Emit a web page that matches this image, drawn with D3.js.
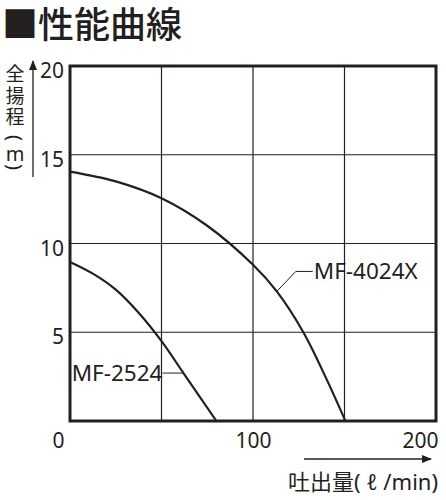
<!DOCTYPE html>
<html lang="ja">
<head>
<meta charset="utf-8">
<title>性能曲線</title>
<script src="https://cdn.jsdelivr.net/npm/d3@7"></script>
<style>
  body { margin: 0; background: #fff; }
  svg text { font-family: "Noto Sans", "Noto Sans CJK JP", sans-serif; fill: #231f20; }
  .axis path, .axis line { display: none; }
  .grid line { stroke: #231f20; stroke-width: 1.2; }
</style>
</head>
<body>
<script>
var w = 446, h = 500;
var padLeft = 70, padRight = 436, padTop = 66, padBottom = 421;

// 吐出量 (l/min) と 全揚程 (m)
var flow4024 = [0, 25, 50, 75, 100, 113, 127.5, 140, 150.5];
var head4024 = [14.05, 13.5, 12.55, 11.0, 8.8, 7.3, 5, 2.4, 0];
var flow2524 = [0, 12.5, 25, 37.5, 50, 62, 80];
var head2524 = [8.96, 8.3, 7.4, 6.1, 4.5, 2.7, 0];

var xTicks = [0, 100, 200];
var yTicks = [5, 10, 15, 20];
var xGrid = [50, 100, 150];
var yGrid = [5, 10, 15];

var xscale = d3.scaleLinear().domain([0, 200]).range([padLeft, padRight]);
var yscale = d3.scaleLinear().domain([0, 20]).range([padBottom, padTop]);

var svg = d3.select("body").append("svg").attr("width", w).attr("height", h);

var defs = svg.append("defs");
defs.append("marker").attr("id", "arrow")
    .attr("viewBox", "0 0 10 10").attr("refX", 9).attr("refY", 5)
    .attr("markerWidth", 10).attr("markerHeight", 10)
    .attr("markerUnits", "userSpaceOnUse").attr("orient", "auto")
    .append("path").attr("d", "M0,1 L10,5 L0,9 Z").attr("fill", "#231f20");

// title
svg.append("text").attr("x", 2).attr("y", 38)
   .attr("font-family", "Noto Sans CJK JP").attr("font-size", "36px").attr("font-weight", 500)
   .text("■性能曲線");

// grid
var grid = svg.append("g").attr("class", "grid");
grid.selectAll(".gx").data(xGrid).enter().append("line")
    .attr("x1", function (d) { return xscale(d); }).attr("x2", function (d) { return xscale(d); })
    .attr("y1", padTop).attr("y2", padBottom);
grid.selectAll(".gy").data(yGrid).enter().append("line")
    .attr("y1", function (d) { return yscale(d); }).attr("y2", function (d) { return yscale(d); })
    .attr("x1", padLeft).attr("x2", padRight);

// curves
var line = d3.line()
    .x(function (d) { return xscale(d[0]); })
    .y(function (d) { return yscale(d[1]); })
    .curve(d3.curveCatmullRom.alpha(0.5));

svg.append("path").datum(d3.zip(flow4024, head4024))
   .attr("d", line).attr("fill", "none").attr("stroke", "#231f20").attr("stroke-width", 2.2);
svg.append("path").datum(d3.zip(flow2524, head2524))
   .attr("d", line).attr("fill", "none").attr("stroke", "#231f20").attr("stroke-width", 2.2);

// frame
svg.append("rect").attr("x", padLeft).attr("y", padTop)
   .attr("width", padRight - padLeft).attr("height", padBottom - padTop)
   .attr("fill", "none").attr("stroke", "#231f20").attr("stroke-width", 3);

// axes
var xaxis = d3.axisBottom(xscale).tickValues(xTicks).tickSize(0).tickPadding(7);
var gx = svg.append("g").attr("class", "axis")
    .attr("transform", "translate(0," + padBottom + ")").call(xaxis);
gx.selectAll("text").attr("font-size", "21px").attr("font-family", null)
  .attr("dy", "0.95em")
  .attr("text-anchor", function (d) { return d === 0 ? "end" : (d === 200 ? "end" : "middle"); })
  .attr("dx", function (d) { return d === 0 ? -6 : (d === 200 ? 2 : 0); });

var yaxis = d3.axisLeft(yscale).tickValues(yTicks).tickSize(0).tickPadding(6);
var gy = svg.append("g").attr("class", "axis")
    .attr("transform", "translate(" + padLeft + ",0)").call(yaxis);
gy.selectAll("text").attr("font-size", "21px").attr("font-family", null)
  .attr("dy", "0.55em");

// curve labels with leader lines
var p1 = [xscale(113), yscale(7.3)];
svg.append("polyline")
   .attr("points", [p1, [p1[0] + 19, p1[1] - 20], [p1[0] + 36, p1[1] - 20]].join(" "))
   .attr("fill", "none").attr("stroke", "#231f20").attr("stroke-width", 1);
svg.append("text").attr("x", p1[0] + 37).attr("y", p1[1] - 12)
   .attr("font-size", "22.5px").text("MF-4024X");

var p2 = [xscale(62), yscale(2.7)];
svg.append("line").attr("x1", p2[0]).attr("y1", p2[1]).attr("x2", p2[0] - 21).attr("y2", p2[1])
   .attr("stroke", "#231f20").attr("stroke-width", 1);
svg.append("text").attr("x", p2[0] - 21).attr("y", p2[1] + 8)
   .attr("text-anchor", "end").attr("font-size", "22.5px").text("MF-2524");

// axis titles
svg.append("line").attr("x1", 304).attr("y1", 459).attr("x2", 431).attr("y2", 459)
   .attr("stroke", "#231f20").attr("stroke-width", 1.3).attr("marker-end", "url(#arrow)");
svg.append("text").attr("x", 438).attr("y", 490).attr("text-anchor", "end")
   .attr("font-size", "22px").text("吐出量( ℓ /min)");

svg.append("line").attr("x1", 33).attr("y1", 177).attr("x2", 33).attr("y2", 61)
   .attr("stroke", "#231f20").attr("stroke-width", 1.3).attr("marker-end", "url(#arrow)");
var yTitle = ["全", "揚", "程", "(", "m", ")"];
var yTitlePos = [74, 95.5, 117, 138, 153, 167];
svg.selectAll(".yt").data(yTitle).enter().append("text")
   .attr("text-anchor", "middle").attr("dominant-baseline", "central")
   .attr("transform", function (d, i) {
       return "translate(15," + yTitlePos[i] + ")" + ((d === "(" || d === ")") ? " rotate(90)" : "");
   })
   .attr("font-size", function (d) { return /[()m]/.test(d) ? "20px" : "19px"; })
   .attr("font-family", function (d) { return /[()m]/.test(d) ? "Noto Sans" : "Noto Sans CJK JP"; })
   .text(function (d) { return d; });
</script>
</body>
</html>
